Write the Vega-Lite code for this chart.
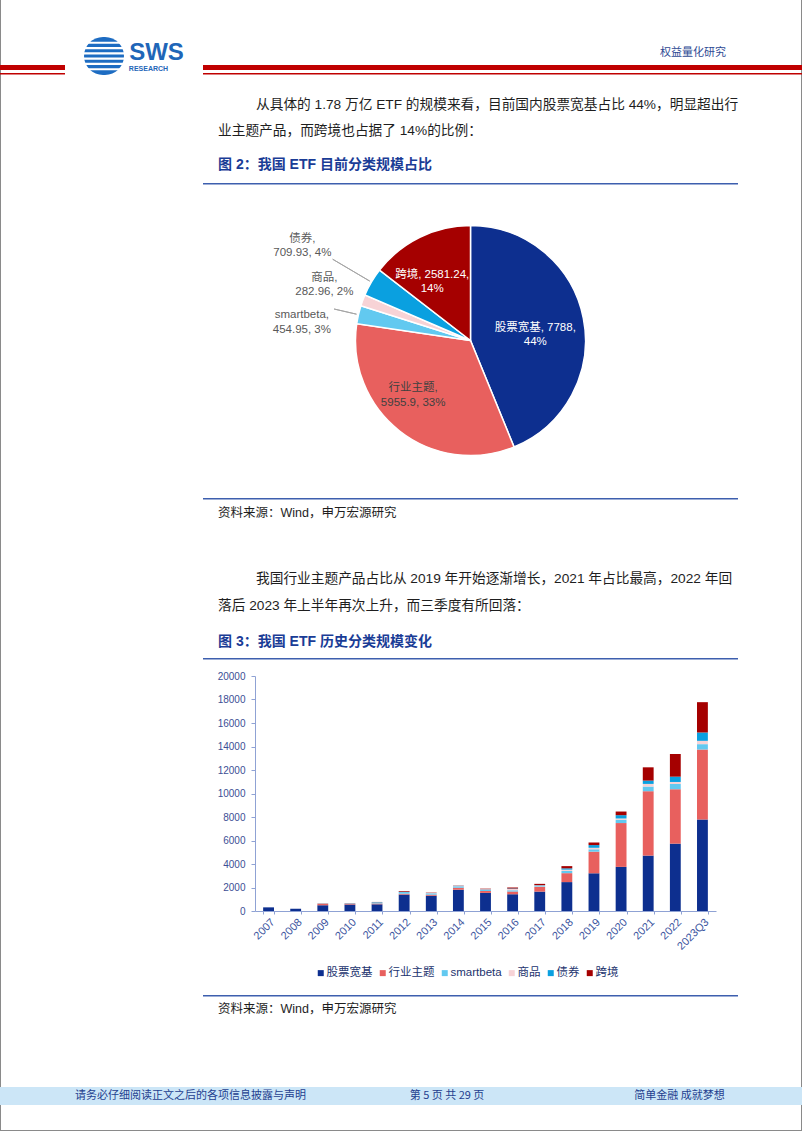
{
  "$schema": "https://vega.github.io/schema/vega-lite/v6.json",
  "padding": 0,
  "background": "#ffffff",
  "config": {
    "view": {"stroke": null},
    "font": "'Liberation Sans', 'Noto Sans CJK SC', sans-serif",
    "title": {"anchor": "start", "frame": "group", "orient": "bottom", "baseline": "top", "offset": 0, "fontSize": 13.7, "fontWeight": "normal", "color": "#1e1e1e", "font": "'Liberation Sans', 'Noto Sans CJK SC', sans-serif"},
    "text": {"font": "'Liberation Sans', 'Noto Sans CJK SC', sans-serif"}
  },
  "datasets": {
    "cats": [
      {"cat": "股票宽基", "k": 1}, {"cat": "行业主题", "k": 2}, {"cat": "smartbeta", "k": 3},
      {"cat": "商品", "k": 4}, {"cat": "债券", "k": 5}, {"cat": "跨境", "k": 6}
    ],
    "pie": [
      {"cat": "股票宽基", "value": 7788, "label": "股票宽基, 7788,\n44%"},
      {"cat": "行业主题", "value": 5955.9, "label": "行业主题,\n5955.9, 33%"},
      {"cat": "smartbeta", "value": 454.95, "label": "smartbeta,\n454.95, 3%"},
      {"cat": "商品", "value": 282.96, "label": "商品,\n282.96, 2%"},
      {"cat": "债券", "value": 709.93, "label": "债券,\n709.93, 4%"},
      {"cat": "跨境", "value": 2581.24, "label": "跨境, 2581.24,\n14%"}
    ],
    "bars": [
      {"year": "2007", "股票宽基": 310, "行业主题": 0, "smartbeta": 0, "商品": 0, "债券": 0, "跨境": 0},
      {"year": "2008", "股票宽基": 200, "行业主题": 0, "smartbeta": 0, "商品": 0, "债券": 0, "跨境": 0},
      {"year": "2009", "股票宽基": 490, "行业主题": 100, "smartbeta": 20, "商品": 0, "债券": 0, "跨境": 20},
      {"year": "2010", "股票宽基": 550, "行业主题": 80, "smartbeta": 40, "商品": 0, "债券": 0, "跨境": 10},
      {"year": "2011", "股票宽基": 570, "行业主题": 70, "smartbeta": 110, "商品": 0, "债券": 0, "跨境": 20},
      {"year": "2012", "股票宽基": 1400, "行业主题": 70, "smartbeta": 130, "商品": 0, "债券": 30, "跨境": 60},
      {"year": "2013", "股票宽基": 1300, "行业主题": 90, "smartbeta": 90, "商品": 30, "债券": 20, "跨境": 30},
      {"year": "2014", "股票宽基": 1810, "行业主题": 170, "smartbeta": 80, "商品": 40, "债券": 40, "跨境": 20},
      {"year": "2015", "股票宽基": 1540, "行业主题": 160, "smartbeta": 90, "商品": 50, "债券": 20, "跨境": 40},
      {"year": "2016", "股票宽基": 1420, "行业主题": 230, "smartbeta": 120, "商品": 110, "债券": 30, "跨境": 90},
      {"year": "2017", "股票宽基": 1650, "行业主题": 400, "smartbeta": 60, "商品": 60, "债券": 30, "跨境": 110},
      {"year": "2018", "股票宽基": 2460, "行业主题": 760, "smartbeta": 190, "商品": 110, "债券": 110, "跨境": 190},
      {"year": "2019", "股票宽基": 3210, "行业主题": 1840, "smartbeta": 200, "商品": 130, "债券": 230, "跨境": 220},
      {"year": "2020", "股票宽基": 3755, "行业主题": 3730, "smartbeta": 280, "商品": 110, "债券": 280, "跨境": 310},
      {"year": "2021", "股票宽基": 4715, "行业主题": 5480, "smartbeta": 395, "商品": 226, "债券": 282, "跨境": 1130},
      {"year": "2022", "股票宽基": 5732, "行业主题": 4630, "smartbeta": 450, "商品": 170, "债券": 450, "跨境": 1930},
      {"year": "2023Q3", "股票宽基": 7788, "行业主题": 5955.9, "smartbeta": 454.95, "商品": 282.96, "债券": 709.93, "跨境": 2581.24}
    ]
  },
  "spacing": 0,
  "bounds": "flush",
  "resolve": {"scale": {"color": "independent"}, "legend": {"color": "independent"}},
  "vconcat": [
    {
      "spacing": 0, "bounds": "flush",
      "hconcat": [
        {"width": 1, "height": 1131, "view": {"fill": "#8a8a8a", "stroke": null}, "data": {"values": []}, "mark": {"type": "text", "text": ""}},
        {"width": 800, "height": 1131, "data": {"values": []}, "mark": {"type": "text", "text": ""}},
        {"width": 1, "height": 1131, "view": {"fill": "#8a8a8a", "stroke": null}, "data": {"values": []}, "mark": {"type": "text", "text": ""}}
      ]
    },
    {"width": 802, "height": 37, "data": {"values": []}, "mark": {"type": "text", "text": ""}},
    {
      "spacing": 0, "bounds": "flush",
      "hconcat": [
        {"width": 84, "height": 38, "data": {"values": []}, "mark": {"type": "text", "text": ""}},
        {
          "width": 40, "height": 38,
          "view": {"fill": "#1d6cc2", "stroke": null, "cornerRadius": 19},
          "data": {"values": [{"s": "a"}, {"s": "b"}, {"s": "c"}, {"s": "d"}, {"s": "e"}, {"s": "f"}]},
          "mark": {"type": "bar", "color": "#ffffff"},
          "encoding": {"y": {"field": "s", "type": "nominal", "axis": null, "scale": {"paddingInner": 0.6, "paddingOuter": 0.9}}}
        },
        {"width": 4, "height": 38, "data": {"values": []}, "mark": {"type": "text", "text": ""}},
        {
          "spacing": 0, "bounds": "flush",
          "vconcat": [
            {"width": 57, "height": 4, "data": {"values": []}, "mark": {"type": "text", "text": ""}},
            {"width": 57, "height": 24, "data": {"values": [{}]}, "mark": {"type": "text", "text": "SWS", "font": "Liberation Sans", "fontWeight": "bold", "fontSize": 24, "color": "#1f66b8"}},
            {"width": 57, "height": 1, "data": {"values": []}, "mark": {"type": "text", "text": ""}},
            {"width": 41, "height": 5, "data": {"values": [{}]}, "mark": {"type": "text", "text": "RESEARCH", "font": "Liberation Sans", "fontWeight": "bold", "fontSize": 7, "color": "#1f66b8"}}
          ]
        }
      ]
    },
    {"width": 802, "height": 28, "data": {"values": []}, "mark": {"type": "text", "text": ""},
     "title": {"text": "权益量化研究", "anchor": "end", "dx": -76, "offset": -18, "fontSize": 11, "color": "#2e4a94", "font": "'Noto Sans CJK SC'"}},
    {
      "spacing": 0, "bounds": "flush",
      "hconcat": [
        {"width": 65, "height": 5, "view": {"fill": "#c00000", "stroke": null}, "data": {"values": []}, "mark": {"type": "text", "text": ""}},
        {"width": 138, "height": 5, "data": {"values": []}, "mark": {"type": "text", "text": ""}},
        {"width": 599, "height": 5, "view": {"fill": "#c00000", "stroke": null}, "data": {"values": []}, "mark": {"type": "text", "text": ""}}
      ]
    },
    {"width": 802, "height": 8, "data": {"values": []}, "mark": {"type": "text", "text": ""}},
    {
      "spacing": 0, "bounds": "flush",
      "hconcat": [
        {"width": 65, "height": 1.5, "view": {"fill": "#c00000", "stroke": null}, "data": {"values": []}, "mark": {"type": "text", "text": ""}},
        {"width": 138, "height": 1.5, "data": {"values": []}, "mark": {"type": "text", "text": ""}},
        {"width": 599, "height": 1.5, "view": {"fill": "#c00000", "stroke": null}, "data": {"values": []}, "mark": {"type": "text", "text": ""}}
      ]
    },
    {"width": 802, "height": 21, "data": {"values": []}, "mark": {"type": "text", "text": ""},
     "title": {"text": "从具体的 1.78 万亿 ETF 的规模来看，目前国内股票宽基占比 44%，明显超出行", "dx": 256}},
    {"width": 802, "height": 26, "data": {"values": []}, "mark": {"type": "text", "text": ""},
     "title": {"text": "业主题产品，而跨境也占据了 14%的比例：", "dx": 218}},
    {"width": 802, "height": 34, "data": {"values": []}, "mark": {"type": "text", "text": ""},
     "title": {"text": "图 2：我国 ETF 目前分类规模占比", "dx": 218, "fontSize": 14, "fontWeight": "bold", "color": "#1a3c96"}},
    {"width": 802, "height": 29, "data": {"values": []}, "mark": {"type": "text", "text": ""}},
    {
      "spacing": 0, "bounds": "flush",
      "hconcat": [
        {"width": 203, "height": 1.5, "data": {"values": []}, "mark": {"type": "text", "text": ""}},
        {"width": 535, "height": 1.5, "view": {"fill": "#3d5fae", "stroke": null}, "data": {"values": []}, "mark": {"type": "text", "text": ""}}
      ]
    },
    {"width": 802, "height": 1, "data": {"values": []}, "mark": {"type": "text", "text": ""}},
    {
      "spacing": 0, "bounds": "flush",
      "resolve": {"scale": {"color": "independent"}, "legend": {"color": "independent"}},
      "hconcat": [
        {"width": 203, "height": 313, "data": {"values": []}, "mark": {"type": "text", "text": ""}},
        {
          "width": 535, "height": 313,
          "data": {"name": "pie"},
          "transform": [{"lookup": "cat", "from": {"data": {"name": "cats"}, "key": "cat", "fields": ["k"]}}],
          "encoding": {
            "theta": {"field": "value", "type": "quantitative", "stack": true},
            "order": {"field": "k", "type": "quantitative"}
          },
          "layer": [
            {
              "mark": {"type": "arc", "outerRadius": 115, "stroke": "#ffffff", "strokeWidth": 1.5},
              "encoding": {
                "color": {"field": "cat", "type": "nominal", "legend": null,
                  "scale": {"domain": ["股票宽基", "行业主题", "smartbeta", "商品", "债券", "跨境"],
                            "range": ["#0d2f8f", "#e8605e", "#62c9f0", "#f7d3d6", "#0aa0e0", "#a50000"]}}
              }
            },
            {
              "mark": {"type": "arc", "filled": false, "color": "#a6a6a6", "strokeWidth": 1, "radius": 160, "radius2": 117, "padAngle": 0.8},
              "encoding": {"strokeOpacity": {"condition": {"test": "datum.cat === '债券'", "value": 1}, "value": 0}}
            },
            {
              "mark": {"type": "arc", "filled": false, "color": "#a6a6a6", "strokeWidth": 1, "radius": 140, "radius2": 117, "padAngle": 0.8},
              "encoding": {"strokeOpacity": {"condition": {"test": "datum.cat === 'smartbeta'", "value": 1}, "value": 0}}
            },
            {
              "mark": {"type": "text", "radius": 66, "dy": 0, "fontSize": 11.5, "lineHeight": 14.5, "lineBreak": "\n", "color": "#ffffff"},
              "encoding": {"text": {"condition": {"test": "datum.cat === '股票宽基'", "field": "label", "type": "nominal"}, "value": ""}}
            },
            {
              "mark": {"type": "text", "radius": 76, "dx": -10.5, "dy": -12, "fontSize": 11.5, "lineHeight": 14.5, "lineBreak": "\n", "color": "#404040"},
              "encoding": {"text": {"condition": {"test": "datum.cat === '行业主题'", "field": "label", "type": "nominal"}, "value": ""}}
            },
            {
              "mark": {"type": "text", "radius": 71, "dx": -7, "dy": -2, "fontSize": 11.5, "lineHeight": 14.5, "lineBreak": "\n", "color": "#ffffff"},
              "encoding": {"text": {"condition": {"test": "datum.cat === '跨境'", "field": "label", "type": "nominal"}, "value": ""}}
            },
            {
              "mark": {"type": "text", "radius": 194, "dx": -1, "dy": -3, "fontSize": 11.5, "lineHeight": 14.5, "lineBreak": "\n", "color": "#595959"},
              "encoding": {"text": {"condition": {"test": "datum.cat === '债券'", "field": "label", "type": "nominal"}, "value": ""}}
            },
            {
              "mark": {"type": "text", "radius": 156, "dy": -8, "fontSize": 11.5, "lineHeight": 14.5, "lineBreak": "\n", "color": "#595959"},
              "encoding": {"text": {"condition": {"test": "datum.cat === '商品'", "field": "label", "type": "nominal"}, "value": ""}}
            },
            {
              "mark": {"type": "text", "radius": 170, "dx": -3, "dy": 13, "fontSize": 11.5, "lineHeight": 14.5, "lineBreak": "\n", "color": "#595959"},
              "encoding": {"text": {"condition": {"test": "datum.cat === 'smartbeta'", "field": "label", "type": "nominal"}, "value": ""}}
            }
          ]
        }
      ]
    },
    {"width": 802, "height": 314, "data": {"values": []}, "mark": {"type": "text", "text": ""}},
    {
      "spacing": 0, "bounds": "flush",
      "hconcat": [
        {"width": 203, "height": 1.5, "data": {"values": []}, "mark": {"type": "text", "text": ""}},
        {"width": 535, "height": 1.5, "view": {"fill": "#3d5fae", "stroke": null}, "data": {"values": []}, "mark": {"type": "text", "text": ""}}
      ]
    },
    {"width": 802, "height": 1, "data": {"values": []}, "mark": {"type": "text", "text": ""},
     "title": {"text": "资料来源：Wind，申万宏源研究", "dx": 218, "offset": 8, "fontSize": 12.5}},
    {"width": 802, "height": 69, "data": {"values": []}, "mark": {"type": "text", "text": ""},
     "title": {"text": "我国行业主题产品占比从 2019 年开始逐渐增长，2021 年占比最高，2022 年回", "dx": 256}},
    {"width": 802, "height": 27, "data": {"values": []}, "mark": {"type": "text", "text": ""},
     "title": {"text": "落后 2023 年上半年再次上升，而三季度有所回落：", "dx": 218}},
    {"width": 802, "height": 36, "data": {"values": []}, "mark": {"type": "text", "text": ""},
     "title": {"text": "图 3：我国 ETF 历史分类规模变化", "dx": 218, "fontSize": 14, "fontWeight": "bold", "color": "#1a3c96"}},
    {"width": 802, "height": 27, "data": {"values": []}, "mark": {"type": "text", "text": ""}},
    {
      "spacing": 0, "bounds": "flush",
      "hconcat": [
        {"width": 203, "height": 1.5, "data": {"values": []}, "mark": {"type": "text", "text": ""}},
        {"width": 535, "height": 1.5, "view": {"fill": "#3d5fae", "stroke": null}, "data": {"values": []}, "mark": {"type": "text", "text": ""}}
      ]
    },
    {"width": 802, "height": 18, "data": {"values": []}, "mark": {"type": "text", "text": ""}},
    {
      "spacing": 0, "bounds": "flush",
      "resolve": {"scale": {"color": "independent"}, "legend": {"color": "independent"}},
      "hconcat": [
        {"width": 255, "height": 235, "data": {"values": []}, "mark": {"type": "text", "text": ""}},
        {
          "width": 461, "height": 235,
          "data": {"name": "bars"},
          "transform": [
            {"fold": ["股票宽基", "行业主题", "smartbeta", "商品", "债券", "跨境"], "as": ["cat", "value"]},
            {"lookup": "cat", "from": {"data": {"name": "cats"}, "key": "cat", "fields": ["k"]}}
          ],
          "mark": {"type": "bar"},
          "encoding": {
            "x": {"field": "year", "type": "nominal", "sort": null, "title": null,
              "scale": {"paddingInner": 0.6, "paddingOuter": 0.3},
              "axis": {"labelAngle": -45, "labelFontSize": 11, "labelColor": "#3c55a0", "domainColor": "#8fa2d4", "tickColor": "#8fa2d4", "tickSize": 3, "tickBand": "extent", "labelPadding": 2, "grid": false}},
            "y": {"field": "value", "type": "quantitative", "stack": "zero", "title": null,
              "scale": {"domain": [0, 20000], "nice": false},
              "axis": {"values": [0, 2000, 4000, 6000, 8000, 10000, 12000, 14000, 16000, 18000, 20000], "format": "d", "labelFontSize": 10, "labelColor": "#3c4f95", "domainColor": "#8fa2d4", "tickColor": "#8fa2d4", "tickSize": 4, "labelPadding": 6, "grid": false}},
            "color": {"field": "cat", "type": "nominal",
              "scale": {"domain": ["股票宽基", "行业主题", "smartbeta", "商品", "债券", "跨境"],
                        "range": ["#0d2f8f", "#e8605e", "#62c9f0", "#f7d3d6", "#0aa0e0", "#a50000"]},
              "legend": {"orient": "none", "legendX": 60, "legendY": 291, "direction": "horizontal", "title": null,
                "symbolType": "square", "symbolSize": 36, "symbolStrokeWidth": 0, "labelFontSize": 11.5, "labelColor": "#22336e",
                "columnPadding": 4, "labelOffset": 0}},
            "order": {"field": "k", "type": "quantitative"}
          }
        }
      ]
    },
    {"width": 802, "height": 319, "data": {"values": []}, "mark": {"type": "text", "text": ""}},
    {
      "spacing": 0, "bounds": "flush",
      "hconcat": [
        {"width": 203, "height": 1.5, "data": {"values": []}, "mark": {"type": "text", "text": ""}},
        {"width": 535, "height": 1.5, "view": {"fill": "#3d5fae", "stroke": null}, "data": {"values": []}, "mark": {"type": "text", "text": ""}}
      ]
    },
    {"width": 802, "height": 1, "data": {"values": []}, "mark": {"type": "text", "text": ""},
     "title": {"text": "资料来源：Wind，申万宏源研究", "dx": 218, "offset": 7, "fontSize": 12.5}},
    {"width": 802, "height": 91, "data": {"values": []}, "mark": {"type": "text", "text": ""}},
    {
      "spacing": 0,
      "bounds": "flush",
      "hconcat": [
        {"width": 381, "height": 18, "view": {"fill": "#cce6f7", "stroke": null}, "data": {"values": [{}]},
         "mark": {"type": "text", "text": "请务必仔细阅读正文之后的各项信息披露与声明", "fontSize": 11, "color": "#1f3f8f", "font": "'Noto Sans CJK SC'"}},
        {"width": 132, "height": 18, "view": {"fill": "#cce6f7", "stroke": null}, "data": {"values": [{}]},
         "mark": {"type": "text", "text": "第 5 页 共 29 页", "fontSize": 11, "color": "#1f3f8f", "font": "'Noto Sans CJK SC'"}},
        {"width": 44, "height": 18, "view": {"fill": "#cce6f7", "stroke": null}, "data": {"values": []},
         "mark": {"type": "text", "text": ""}},
        {"width": 245, "height": 18, "view": {"fill": "#cce6f7", "stroke": null}, "data": {"values": [{}]},
         "mark": {"type": "text", "text": "简单金融 成就梦想", "fontSize": 11, "color": "#1f3f8f", "font": "'Noto Sans CJK SC'"}}
      ]
    },
    {"width": 802, "height": 43, "data": {"values": []}, "mark": {"type": "text", "text": ""}},
    {"width": 802, "height": 1, "view": {"fill": "#8a8a8a", "stroke": null}, "data": {"values": []}, "mark": {"type": "text", "text": ""}}
  ]
}
